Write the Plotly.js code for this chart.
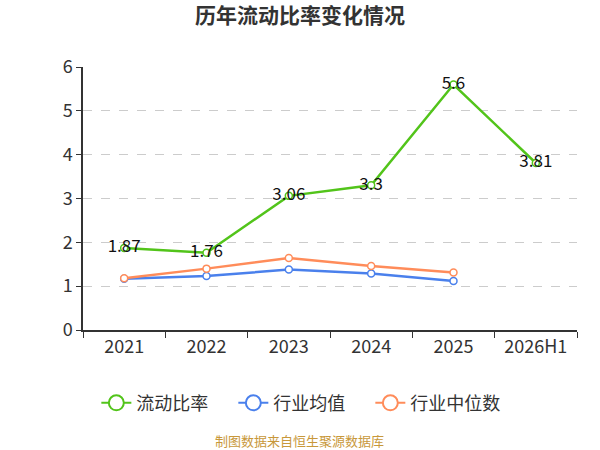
<!DOCTYPE html>
<html>
<head>
<meta charset="utf-8">
<script src="https://cdn.plot.ly/plotly-3.0.1.min.js"></script>
<style>
  body { margin: 0; }
  #chart { width: 600px; height: 450px; }
</style>
</head>
<body>
<div id="chart"></div>
<script>
const years = ['2021', '2022', '2023', '2024', '2025', '2026H1'];
const currentRatio = [1.87, 1.76, 3.06, 3.3, 5.6, 3.81];
const industryAvg = [1.17, 1.23, 1.38, 1.29, 1.12];
const industryMedian = [1.18, 1.40, 1.64, 1.46, 1.31];

const font = 'Noto Sans CJK SC, Noto Sans, sans-serif';

function lineTrace(y, name, color, withText) {
  let t = {
    x: years.slice(0, y.length),
    y: y,
    name: name,
    type: 'scatter',
    mode: withText ? 'lines+markers+text' : 'lines+markers',
    line: { color: color, width: 2.5 },
    marker: { symbol: 'circle', size: 7, color: '#fff', line: { color: color, width: 1.5 } },
    cliponaxis: false,
    showlegend: false
  };
  if (withText) {
    t.text = y.map(v => String(v));
    t.textposition = 'middle center';
    t.textfont = { family: font, size: 17, color: '#111' };
  }
  return t;
}

// legend-only entries, bigger circles like the original legend
function legendTrace(name, color) {
  return {
    x: [null],
    y: [null],
    name: name,
    type: 'scatter',
    mode: 'lines+markers',
    line: { color: color, width: 2 },
    marker: { symbol: 'circle', size: 15, color: '#fff', line: { color: color, width: 2 } }
  };
}

const data = [
  lineTrace(industryAvg, '行业均值', '#4a80ec', false),
  lineTrace(industryMedian, '行业中位数', '#ff8c5a', false),
  lineTrace(currentRatio, '流动比率', '#52c41a', true),
  legendTrace('流动比率', '#52c41a'),
  legendTrace('行业均值', '#4a80ec'),
  legendTrace('行业中位数', '#ff8c5a')
];

const layout = {
  width: 600,
  height: 450,
  margin: { l: 83, r: 23, t: 67, b: 120 },
  paper_bgcolor: '#fff',
  plot_bgcolor: '#fff',
  font: { family: font, color: '#333' },
  title: {
    text: '<b>历年流动比率变化情况</b>',
    font: { family: font, size: 21, color: '#333' },
    x: 0.5,
    y: 0.965,
    yanchor: 'middle'
  },
  xaxis: {
    type: 'category',
    showline: true,
    linecolor: '#333',
    linewidth: 1.5,
    ticks: 'outside',
    tickson: 'boundaries',
    ticklen: 6,
    tickcolor: '#333',
    showgrid: false,
    tickfont: { size: 18, color: '#333' },
    range: [-0.5, 5.5]
  },
  yaxis: {
    range: [0, 6],
    dtick: 1,
    showline: true,
    linecolor: '#333',
    linewidth: 1.5,
    ticks: 'outside',
    ticklen: 5,
    tickcolor: '#333',
    showgrid: true,
    gridcolor: '#ccc',
    griddash: 'dash',
    zeroline: false,
    tickfont: { size: 18, color: '#333' }
  },
  showlegend: true,
  legend: {
    orientation: 'h',
    x: 0.443,
    xanchor: 'center',
    y: -0.278,
    yanchor: 'middle',
    font: { size: 18, color: '#333' },
    traceorder: 'normal',
    entrywidth: 92,
    entrywidthmode: 'pixels'
  },
  annotations: [{
    text: '制图数据来自恒生聚源数据库',
    xref: 'paper',
    yref: 'paper',
    x: 0.439,
    y: -0.42,
    xanchor: 'center',
    yanchor: 'middle',
    showarrow: false,
    font: { family: font, size: 13, color: '#c8983a' }
  }]
};

Plotly.newPlot('chart', data, layout, { displayModeBar: false });
</script>
</body>
</html>
